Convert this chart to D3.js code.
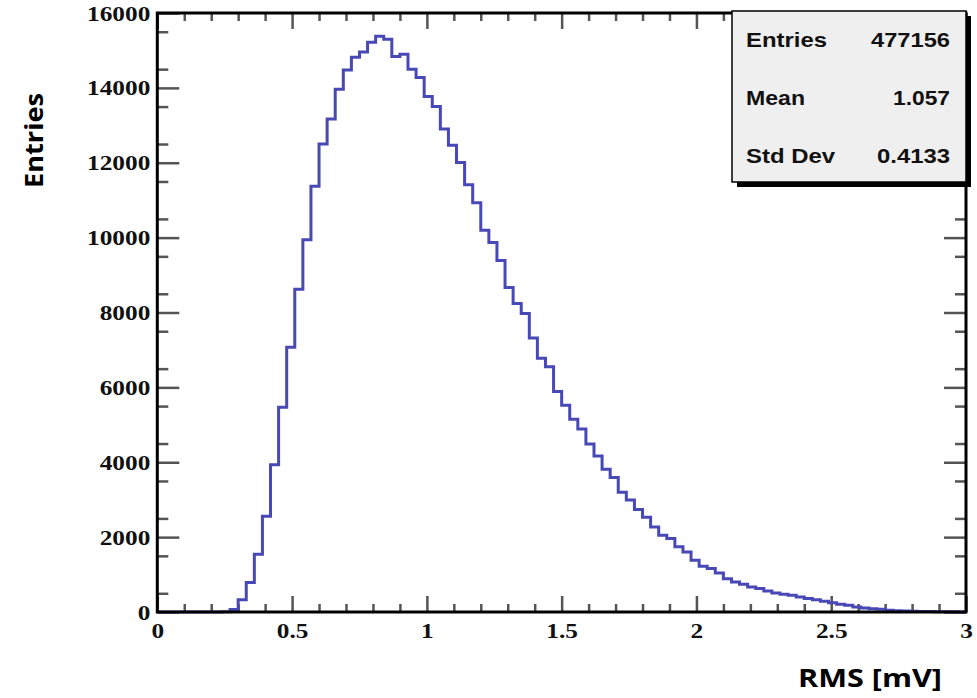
<!DOCTYPE html>
<html>
<head>
<meta charset="utf-8">
<script src="https://cdn.jsdelivr.net/npm/d3@7"></script>
<style>
  html, body { margin: 0; padding: 0; background: #ffffff; }
  svg { display: block; }
</style>
</head>
<body>
<svg id="chart" width="977" height="698"></svg>
<script>
// ---- data ----
const binLow = 0;
const binWidth = 0.03;
const counts = [
  0, 0, 0, 0, 0, 0, 0, 0, 10, 70,
  330, 790, 1540, 2560, 3930, 5470, 7070, 8620, 9940, 11370,
  12500, 13170, 13960, 14480, 14820, 14960, 15220, 15380, 15300, 14840,
  14900, 14500, 14280, 13770, 13500, 12900, 12470, 12010, 11410, 10930,
  10200, 9870, 9390, 8670, 8240, 7970, 7320, 6780, 6550, 5890,
  5520, 5150, 4890, 4490, 4170, 3810, 3590, 3200, 2990, 2740,
  2530, 2270, 2050, 1960, 1740, 1600, 1380, 1220, 1160, 1040,
  890, 800, 740, 670, 625, 560, 510, 475, 445, 400,
  360, 330, 285, 250, 205, 180, 135, 107, 90, 72,
  45, 35, 28, 22, 16, 12, 9, 6, 4, 2
];
const xMajorTicks = [0, 0.5, 1, 1.5, 2, 2.5, 3];
const xMinorTicks = d3.range(0, 31).map(i => i / 10).filter(v => Math.abs(v * 2 - Math.round(v * 2)) > 1e-6);
const yMajorTicks = [0, 2000, 4000, 6000, 8000, 10000, 12000, 14000, 16000];
const yMinorTicks = d3.range(500, 16000, 1000);
const statsLabels = ["Entries", "Mean", "Std Dev"];
const statsValues = ["477156", "1.057", "0.4133"];
const xTitle = "RMS [mV]";
const yTitle = "Entries";

// ---- layout ----
const svg = d3.select("#chart");
const L = 157.3, R = 966, T = 13, B = 612;
const x = d3.scaleLinear().domain([0, 3]).range([L, R]);
const y = d3.scaleLinear().domain([0, 16000]).range([B, T]);

const tickColor = "#555";
const serif = "'Liberation Serif', 'Times New Roman', serif";
const sans = "'Liberation Sans', Arial, Helvetica, sans-serif";

function stretch(sel, k) {
  sel.each(function () {
    const w = this.getComputedTextLength();
    d3.select(this).attr("textLength", w * k).attr("lengthAdjust", "spacingAndGlyphs");
  });
}

// minor axes
svg.append("g").attr("transform", `translate(0,${B})`)
  .call(d3.axisBottom(x).tickValues(xMinorTicks).tickSize(-8).tickFormat(""));
svg.append("g").attr("transform", `translate(0,${T})`)
  .call(d3.axisTop(x).tickValues(xMinorTicks).tickSize(-8).tickFormat(""));
svg.append("g").attr("transform", `translate(${L},0)`)
  .call(d3.axisLeft(y).tickValues(yMinorTicks).tickSize(-11).tickFormat(""));
svg.append("g").attr("transform", `translate(${R},0)`)
  .call(d3.axisRight(y).tickValues(yMinorTicks).tickSize(-11).tickFormat(""));

// major axes
const gxb = svg.append("g").attr("transform", `translate(0,${B})`)
  .call(d3.axisBottom(x).tickValues(xMajorTicks).tickSize(-16).tickPadding(10).tickFormat(d => String(d)));
svg.append("g").attr("transform", `translate(0,${T})`)
  .call(d3.axisTop(x).tickValues(xMajorTicks).tickSize(-16).tickFormat(""));
const gyl = svg.append("g").attr("transform", `translate(${L},0)`)
  .call(d3.axisLeft(y).tickValues(yMajorTicks).tickSize(-22).tickPadding(7).tickFormat(d => String(d)));
svg.append("g").attr("transform", `translate(${R},0)`)
  .call(d3.axisRight(y).tickValues(yMajorTicks).tickSize(-22).tickFormat(""));

svg.selectAll(".domain").remove();
svg.selectAll(".tick line").attr("stroke", tickColor).attr("stroke-width", 2.5);
svg.selectAll(".tick text")
  .attr("fill", "#111")
  .style("font-family", serif)
  .style("font-weight", "bold")
  .style("font-size", "22px");
stretch(gxb.selectAll(".tick text"), 1.15);
stretch(gyl.selectAll(".tick text"), 1.15);

// histogram
const pts = [];
counts.forEach((c, i) => {
  pts.push([binLow + i * binWidth, c]);
  pts.push([binLow + (i + 1) * binWidth, c]);
});
svg.append("path")
  .datum(pts)
  .attr("fill", "none")
  .attr("stroke", "#4848b6")
  .attr("stroke-width", 3)
  .attr("stroke-linejoin", "miter")
  .attr("d", d3.line().x(d => x(d[0])).y(d => y(d[1])));

// frame
svg.append("rect")
  .attr("x", L).attr("y", T).attr("width", R - L).attr("height", B - T)
  .attr("fill", "none").attr("stroke", "#000").attr("stroke-width", 3);

// stats box
const bx = 732, by = 11, bw = 234, bh = 171;
svg.append("rect").attr("x", bx + 5).attr("y", by + 5).attr("width", bw).attr("height", bh).attr("fill", "#000");
svg.append("rect").attr("x", bx).attr("y", by).attr("width", bw).attr("height", bh)
  .attr("fill", "#efefef").attr("stroke", "#000").attr("stroke-width", 1.5);
const rowBase = [47, 105, 163];
const labelW = [81, 59, 89];
const valueW = [79, 57, 73];
statsLabels.forEach((s, i) => {
  svg.append("text").attr("x", 746).attr("y", rowBase[i])
    .style("font-family", sans).style("font-weight", "bold").style("font-size", "21px")
    .attr("fill", "#111")
    .attr("textLength", labelW[i]).attr("lengthAdjust", "spacingAndGlyphs")
    .text(s);
  svg.append("text").attr("x", 950).attr("y", rowBase[i]).attr("text-anchor", "end")
    .style("font-family", sans).style("font-weight", "bold").style("font-size", "21px")
    .attr("fill", "#111")
    .attr("textLength", valueW[i]).attr("lengthAdjust", "spacingAndGlyphs")
    .text(statsValues[i]);
});

// axis titles
svg.append("text")
  .attr("x", 798).attr("y", 687)
  .style("font-family", "'Open Sans', Lato, sans-serif").style("font-weight", "bold").style("font-size", "25px")
  .attr("fill", "#000")
  .attr("textLength", 144).attr("lengthAdjust", "spacingAndGlyphs")
  .text(xTitle);
svg.append("text")
  .attr("transform", "translate(43,140.5) rotate(-90)")
  .attr("text-anchor", "middle")
  .style("font-family", "'Open Sans', Lato, sans-serif").style("font-weight", "bold").style("font-size", "25px")
  .attr("fill", "#000")
  .attr("textLength", 95).attr("lengthAdjust", "spacingAndGlyphs")
  .text(yTitle);
</script>
</body>
</html>
